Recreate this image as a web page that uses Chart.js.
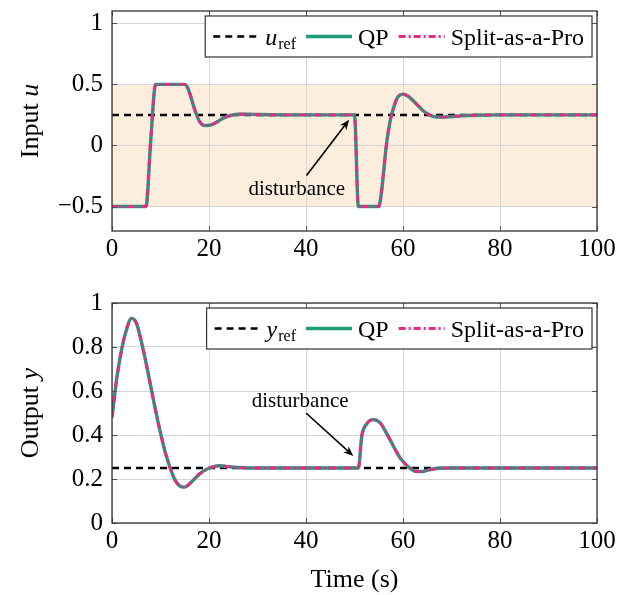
<!DOCTYPE html>
<html>
<head>
<meta charset="utf-8">
<script src="https://cdn.jsdelivr.net/npm/chart.js@4.4.1/dist/chart.umd.min.js"></script>
<style>
  html, body { margin: 0; padding: 0; background: #fff; }
  #wrap { position: relative; width: 628px; height: 595px; }
  canvas { position: absolute; left: 0; }
  #cu { top: 0; }
  #cy { top: 290px; }
</style>
</head>
<body>
<div id="wrap">
  <canvas id="cu" width="628" height="275" style="width:628px;height:275px"></canvas>
  <canvas id="cy" width="628" height="305" style="width:628px;height:305px"></canvas>
</div>
<script>
// ---- data ----
const xTicks = [0, 20, 40, 60, 80, 100];
const uTicks = [-0.5, 0, 0.5, 1];
const yTicks = [0, 0.2, 0.4, 0.6, 0.8, 1];
const uBand = [-0.5, 0.5];
const uRef = 0.25;
const yRef = 0.25;

// input u (QP and Split-as-a-Pro give the same trace)
const tU = [0, 7, 8, 9, 15, 15.5, 16, 17, 18, 19, 20, 21, 22, 23, 24, 25, 26, 28, 30, 35, 40, 45, 50,
  50.8, 55, 55.5, 56, 56.5, 57, 57.5, 58, 58.5, 59, 60, 61, 62, 63, 64, 65, 66, 67, 68, 70, 72, 75, 80, 90, 100];
const uQP = [-0.5, -0.5, 0.05, 0.5, 0.5, 0.48, 0.43, 0.3, 0.2, 0.163, 0.165, 0.178, 0.2, 0.225, 0.24, 0.25, 0.255, 0.256, 0.253, 0.25, 0.25, 0.25, 0.25,
  -0.5, -0.5, -0.4, -0.22, -0.02, 0.12, 0.23, 0.3, 0.36, 0.4, 0.42, 0.405, 0.37, 0.33, 0.29, 0.26, 0.24, 0.233, 0.232, 0.236, 0.242, 0.247, 0.25, 0.25, 0.25];
const uSplit = uQP.slice();

// output y
const tY = [0, 1, 2, 3, 4, 5, 6, 7, 8, 9, 10, 11, 12, 13, 14, 15, 16, 17, 18, 19, 20, 21, 22, 23, 24, 26, 28, 30, 40, 50,
  50.8, 51.5, 52.5, 53.9, 55.3, 56.3, 57.3, 58.3, 59.4, 60.4, 61.4, 62.8, 64, 64.9, 66.9, 70, 80, 90, 100];
const yQP = [0.48, 0.66, 0.79, 0.88, 0.93, 0.91, 0.83, 0.73, 0.62, 0.51, 0.41, 0.32, 0.25, 0.195, 0.168, 0.163, 0.178, 0.2, 0.222, 0.238, 0.249, 0.256, 0.26, 0.259, 0.256, 0.252, 0.25, 0.25, 0.25, 0.25,
  0.25, 0.395, 0.45, 0.47, 0.455, 0.42, 0.38, 0.338, 0.296, 0.27, 0.25, 0.234, 0.234, 0.239, 0.248, 0.25, 0.25, 0.25, 0.25];
const ySplit = yQP.slice();

const serif = "'Liberation Serif', 'DejaVu Serif', serif";
const green = '#1b9e77';
const pink = '#e7298a';
const bandColor = 'rgb(253, 237, 221)';

function pts(xs, ys) { return xs.map((x, i) => ({ x: x, y: ys[i] })); }

function arrow(ctx, x0, y0, x1, y1) {
  const ang = Math.atan2(y1 - y0, x1 - x0), L = 10, W = 4;
  ctx.beginPath();
  ctx.moveTo(x0, y0);
  ctx.lineTo(x1 - Math.cos(ang) * L * 0.7, y1 - Math.sin(ang) * L * 0.7);
  ctx.stroke();
  ctx.beginPath();
  ctx.moveTo(x1, y1);
  ctx.lineTo(x1 - Math.cos(ang) * L + Math.sin(ang) * W, y1 - Math.sin(ang) * L - Math.cos(ang) * W);
  ctx.lineTo(x1 - Math.cos(ang) * L * 0.7, y1 - Math.sin(ang) * L * 0.7);
  ctx.lineTo(x1 - Math.cos(ang) * L - Math.sin(ang) * W, y1 - Math.sin(ang) * L + Math.cos(ang) * W);
  ctx.closePath();
  ctx.fill();
}

// band, frame, inner ticks, legend, annotation, axis labels
const decor = {
  id: 'decor',
  beforeDraw(chart, args, o) {
    if (!o.band) return;
    const { ctx, chartArea: a, scales: { y } } = chart;
    const top = y.getPixelForValue(o.band[1]), bot = y.getPixelForValue(o.band[0]);
    ctx.save();
    ctx.fillStyle = bandColor;
    ctx.fillRect(a.left, top, a.right - a.left, bot - top);
    ctx.restore();
  },
  afterDraw(chart, args, o) {
    const { ctx, chartArea: a, scales: { x, y } } = chart;
    ctx.save();
    // inner ticks
    ctx.strokeStyle = '#555';
    ctx.lineWidth = 1;
    ctx.beginPath();
    xTicks.forEach(v => {
      const px = Math.round(x.getPixelForValue(v)) + 0.5;
      ctx.moveTo(px, a.bottom); ctx.lineTo(px, a.bottom - 5);
      ctx.moveTo(px, a.top); ctx.lineTo(px, a.top + 5);
    });
    o.yticks.forEach(v => {
      const py = Math.round(y.getPixelForValue(v)) + 0.5;
      ctx.moveTo(a.left, py); ctx.lineTo(a.left + 5, py);
      ctx.moveTo(a.right, py); ctx.lineTo(a.right - 5, py);
    });
    ctx.stroke();
    // frame
    ctx.strokeStyle = '#333';
    ctx.lineWidth = 1.3;
    ctx.strokeRect(a.left, a.top, a.right - a.left, a.bottom - a.top);

    // annotation
    const an = o.note;
    ctx.fillStyle = '#000';
    ctx.strokeStyle = '#000';
    ctx.lineWidth = 1.6;
    ctx.font = '21px ' + serif;
    ctx.textAlign = 'center';
    ctx.textBaseline = 'middle';
    ctx.fillText(an.text, x.getPixelForValue(an.at[0]), y.getPixelForValue(an.at[1]));
    arrow(ctx, x.getPixelForValue(an.from[0]), y.getPixelForValue(an.from[1]),
      x.getPixelForValue(an.to[0]), y.getPixelForValue(an.to[1]));

    // legend
    const fs = 24, sub = 16, sample = 46, gapA = 6, gapB = 10;
    const items = o.legend;
    ctx.textAlign = 'left';
    ctx.textBaseline = 'alphabetic';
    const widths = items.map(it => {
      let w = 0;
      if (it.sub) {
        ctx.font = 'italic ' + fs + 'px ' + serif; w += ctx.measureText(it.main).width;
        ctx.font = sub + 'px ' + serif; w += ctx.measureText(it.sub).width + 1;
      } else {
        ctx.font = fs + 'px ' + serif; w = ctx.measureText(it.main).width;
      }
      return w;
    });
    let total = 8;
    widths.forEach(w => { total += sample + gapA + w + gapB; });
    total -= 2;
    const bh = 41, bx = a.right - 5 - total, by = a.top + 5;
    ctx.fillStyle = '#fff';
    ctx.fillRect(bx, by, total, bh);
    ctx.strokeStyle = '#333';
    ctx.lineWidth = 1.2;
    ctx.strokeRect(bx, by, total, bh);
    const cy = by + bh / 2, base = cy + 8;
    let cx = bx + 8;
    items.forEach((it, i) => {
      ctx.save();
      ctx.strokeStyle = it.color;
      ctx.lineWidth = it.width;
      ctx.setLineDash(it.dash);
      ctx.beginPath(); ctx.moveTo(cx, cy); ctx.lineTo(cx + sample, cy); ctx.stroke();
      ctx.restore();
      cx += sample + gapA;
      ctx.fillStyle = '#000';
      if (it.sub) {
        ctx.font = 'italic ' + fs + 'px ' + serif;
        ctx.fillText(it.main, cx, base);
        const mw = ctx.measureText(it.main).width;
        ctx.font = sub + 'px ' + serif;
        ctx.fillText(it.sub, cx + mw + 1, base + 4);
      } else {
        ctx.font = fs + 'px ' + serif;
        ctx.fillText(it.main, cx, base);
      }
      cx += widths[i] + gapB;
    });

    // y axis label: roman word + italic symbol
    ctx.save();
    ctx.translate(31, (a.top + a.bottom) / 2);
    ctx.rotate(-Math.PI / 2);
    ctx.textBaseline = 'middle';
    ctx.fillStyle = '#000';
    ctx.font = '26px ' + serif;
    const w1 = ctx.measureText(o.ylabel[0]).width;
    ctx.font = 'italic 26px ' + serif;
    const w2 = ctx.measureText(o.ylabel[1]).width;
    ctx.font = '26px ' + serif;
    ctx.fillText(o.ylabel[0], -(w1 + w2) / 2, 0);
    ctx.font = 'italic 26px ' + serif;
    ctx.fillText(o.ylabel[1], -(w1 + w2) / 2 + w1, 0);
    ctx.restore();

    if (o.xlabel) {
      ctx.font = '26px ' + serif;
      ctx.fillStyle = '#000';
      ctx.textAlign = 'center';
      ctx.textBaseline = 'middle';
      ctx.fillText(o.xlabel, (a.left + a.right) / 2, a.bottom + 57);
    }
    ctx.restore();
  }
};

function fmt(v) {
  if (v < 0) return '\u2212' + String(Math.abs(v));
  return String(v);
}

function makeChart(id, t, ref, qp, split, opt) {
  return new Chart(document.getElementById(id), {
    type: 'line',
    data: {
      datasets: [
        { data: pts([0, 100], [ref, ref]), borderColor: '#000', borderWidth: 2.5, borderDash: [7, 5], order: 3 },
        { data: pts(t, qp), borderColor: green, borderWidth: 3.4, order: 2 },
        { data: pts(t, split), borderColor: pink, borderWidth: 2.8, borderDash: [7, 3, 2, 3], order: 1 }
      ]
    },
    options: {
      responsive: false,
      animation: false,
      events: [],
      layout: { padding: { left: 0, right: 31, top: opt.padTop, bottom: 0 } },
      elements: {
        point: { radius: 0 },
        line: { cubicInterpolationMode: 'monotone', borderCapStyle: 'butt', borderJoinStyle: 'round', fill: false }
      },
      scales: {
        x: {
          type: 'linear', min: 0, max: 100,
          afterBuildTicks: s => { s.ticks = xTicks.map(v => ({ value: v })); },
          afterFit: s => { s.height = opt.xh; },
          grid: { color: '#d6d6d6', lineWidth: 1, drawTicks: false },
          border: { display: false },
          ticks: { color: '#000', padding: 6, maxRotation: 0, font: { family: serif, size: 25, lineHeight: 1 } }
        },
        y: {
          type: 'linear', min: opt.ymin, max: opt.ymax,
          afterBuildTicks: s => { s.ticks = opt.yticks.map(v => ({ value: v })); },
          afterFit: s => { s.width = 112; },
          grid: { color: '#d6d6d6', lineWidth: 1, drawTicks: false },
          border: { display: false },
          ticks: { color: '#000', padding: 9, callback: v => fmt(v), font: { family: serif, size: 25, lineHeight: 0.1 } }
        }
      },
      plugins: {
        legend: { display: false },
        tooltip: { enabled: false },
        decor: {
          band: opt.band, yticks: opt.yticks, ylabel: opt.ylabel, xlabel: opt.xlabel,
          note: opt.note, legend: opt.legend
        }
      }
    },
    plugins: [decor]
  });
}

const legendItems = (sym) => [
  { main: sym, sub: 'ref', color: '#000', width: 2.5, dash: [7, 5] },
  { main: 'QP', color: green, width: 3.4, dash: [] },
  { main: 'Split-as-a-Pro', color: pink, width: 2.8, dash: [7, 3, 2, 3] }
];

makeChart('cu', tU, uRef, uQP, uSplit, {
  padTop: 11, xh: 44, ymin: -0.7, ymax: 1.1, yticks: uTicks, band: uBand,
  ylabel: ['Input ', 'u'], xlabel: null,
  note: { text: 'disturbance', at: [38.1, -0.36], from: [40.1, -0.245], to: [48.9, 0.21] },
  legend: legendItems('u')
});

makeChart('cy', tY, yRef, yQP, ySplit, {
  padTop: 13, xh: 72, ymin: 0, ymax: 1, yticks: yTicks, band: null,
  ylabel: ['Output ', 'y'], xlabel: 'Time (s)',
  note: { text: 'disturbance', at: [38.8, 0.551], from: [40, 0.5], to: [49.75, 0.305] },
  legend: legendItems('y')
});
</script>
</body>
</html>
